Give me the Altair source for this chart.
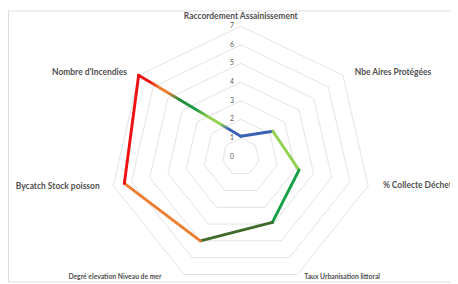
import altair as alt
import pandas as pd

# ---------------- data ----------------
categories = [
    "Raccordement Assainissement",
    "Nbe Aires Protégées",
    "% Collecte Déchets",
    "Taux Urbanisation littoral",
    "Degré elevation Niveau de mer",
    "Bycatch Stock poisson",
    "Nombre d'Incendies",
]
values = [1.1, 2.2, 3.2, 3.9, 5.0, 6.4, 7.0]
tick_values = [0, 1, 2, 3, 4, 5, 6, 7]

# ---------------- styles ----------------
segment_colors = ["#3A62B4", "#92D050", "#14A045", "#3F6A2A", "#ED7D31", "#EE1111"]
closing_stops = [
    (0.0, "#EE1111"), (0.1, "#EE1111"), (0.2, "#ED7D31"), (0.28, "#ED7D31"),
    (0.40, "#1E8C3C"), (0.56, "#1E9A40"), (0.68, "#92D050"), (0.80, "#92D050"),
    (0.88, "#3A62B4"), (1.0, "#3A62B4"),
]
# (align, dx, dy, fontsize) for each category label, relative to the outer ring vertex
label_style = [
    ("center", 0, -10.5, 8.6),
    ("left", 12, -3.5, 8.6),
    ("left", 15, -0.5, 8.6),
    ("left", 7, 2.5, 6.9),
    ("right", -23, 2.5, 6.9),
    ("right", -14, 0, 8.6),
    ("right", -12, -3.5, 8.6),
]

N = len(categories)
W, H = 450, 276
CX, CY, PX = 237, 149, 19.0   # centre in plot pixels, pixels per unit
xdom = [-CX / PX, (W - CX) / PX]
ydom = [-(H - CY) / PX, CY / PX]

ANG = "PI/2 - datum.idx*2*PI/%d" % N

def xy(chart, rfield):
    return chart.transform_calculate(
        x=f"datum.{rfield}*cos({ANG})", y=f"datum.{rfield}*sin({ANG})"
    )

X = alt.X("x:Q", scale=alt.Scale(domain=xdom, nice=False, zero=False), axis=None)
Y = alt.Y("y:Q", scale=alt.Scale(domain=ydom, nice=False, zero=False), axis=None)

# grid rings
grid_rows = [
    {"level": lv, "k": k, "idx": k % N}
    for lv in tick_values if lv > 0 for k in range(N + 1)
]
grid = xy(alt.Chart(pd.DataFrame(grid_rows)), "level").mark_line(
    stroke="#DEDEDE", strokeWidth=0.9
).encode(x=X, y=Y, detail="level:N", order="k:Q")

# segments
seg_rows = []
for s in range(N):
    e = (s + 1) % N
    seg_rows.append({"seg": s, "ord": 0, "idx": s, "value": values[s]})
    seg_rows.append({"seg": s, "ord": 1, "idx": e, "value": values[e]})
seg_df = pd.DataFrame(seg_rows)

segs = xy(alt.Chart(seg_df), "value").transform_filter(
    f"datum.seg < {N-1}"
).mark_line(strokeWidth=3, strokeCap="round", strokeJoin="round").encode(
    x=X, y=Y, detail="seg:N", order="ord:Q",
    color=alt.Color("seg:N", scale=alt.Scale(domain=list(range(N - 1)), range=segment_colors), legend=None),
)

closing = xy(alt.Chart(seg_df), "value").transform_filter(
    f"datum.seg == {N-1}"
).mark_line(
    strokeWidth=3, strokeCap="round",
    stroke=alt.LinearGradient(
        gradient="linear", x1=0, y1=0, x2=1, y2=1,
        stops=[alt.GradientStop(offset=o, color=c) for o, c in closing_stops],
    ),
).encode(x=X, y=Y, order="ord:Q")

# tick labels
ticks_df = pd.DataFrame({"v": tick_values, "lab": [str(t) for t in tick_values]})
ticks = alt.Chart(ticks_df).transform_calculate(x="0", y="datum.v").mark_text(
    align="right", baseline="middle", dx=-7, fontSize=7, font="Lato", color="#595959"
).encode(x=X, y=Y, text="lab:N")

# category labels
cat_df = pd.DataFrame({"idx": list(range(N)), "cat": categories, "r": [max(tick_values)] * N})
label_layers = []
for i, (al, dx, dy, fs) in enumerate(label_style):
    label_layers.append(
        xy(alt.Chart(cat_df), "r").transform_filter(f"datum.idx == {i}").mark_text(
            align=al, baseline="middle", dx=dx, dy=dy, fontSize=fs, font="Lato",
            fontWeight="bold", color="#505050",
        ).encode(x=X, y=Y, text="cat:N")
    )

chart = alt.layer(grid, closing, segs, ticks, *label_layers).properties(
    width=W, height=H, autosize=alt.AutoSizeParams(type="none"), padding=0
).configure_view(stroke=None).configure(background="white")

chart.save("out.html", embed_options={"renderer": "svg", "actions": False})
